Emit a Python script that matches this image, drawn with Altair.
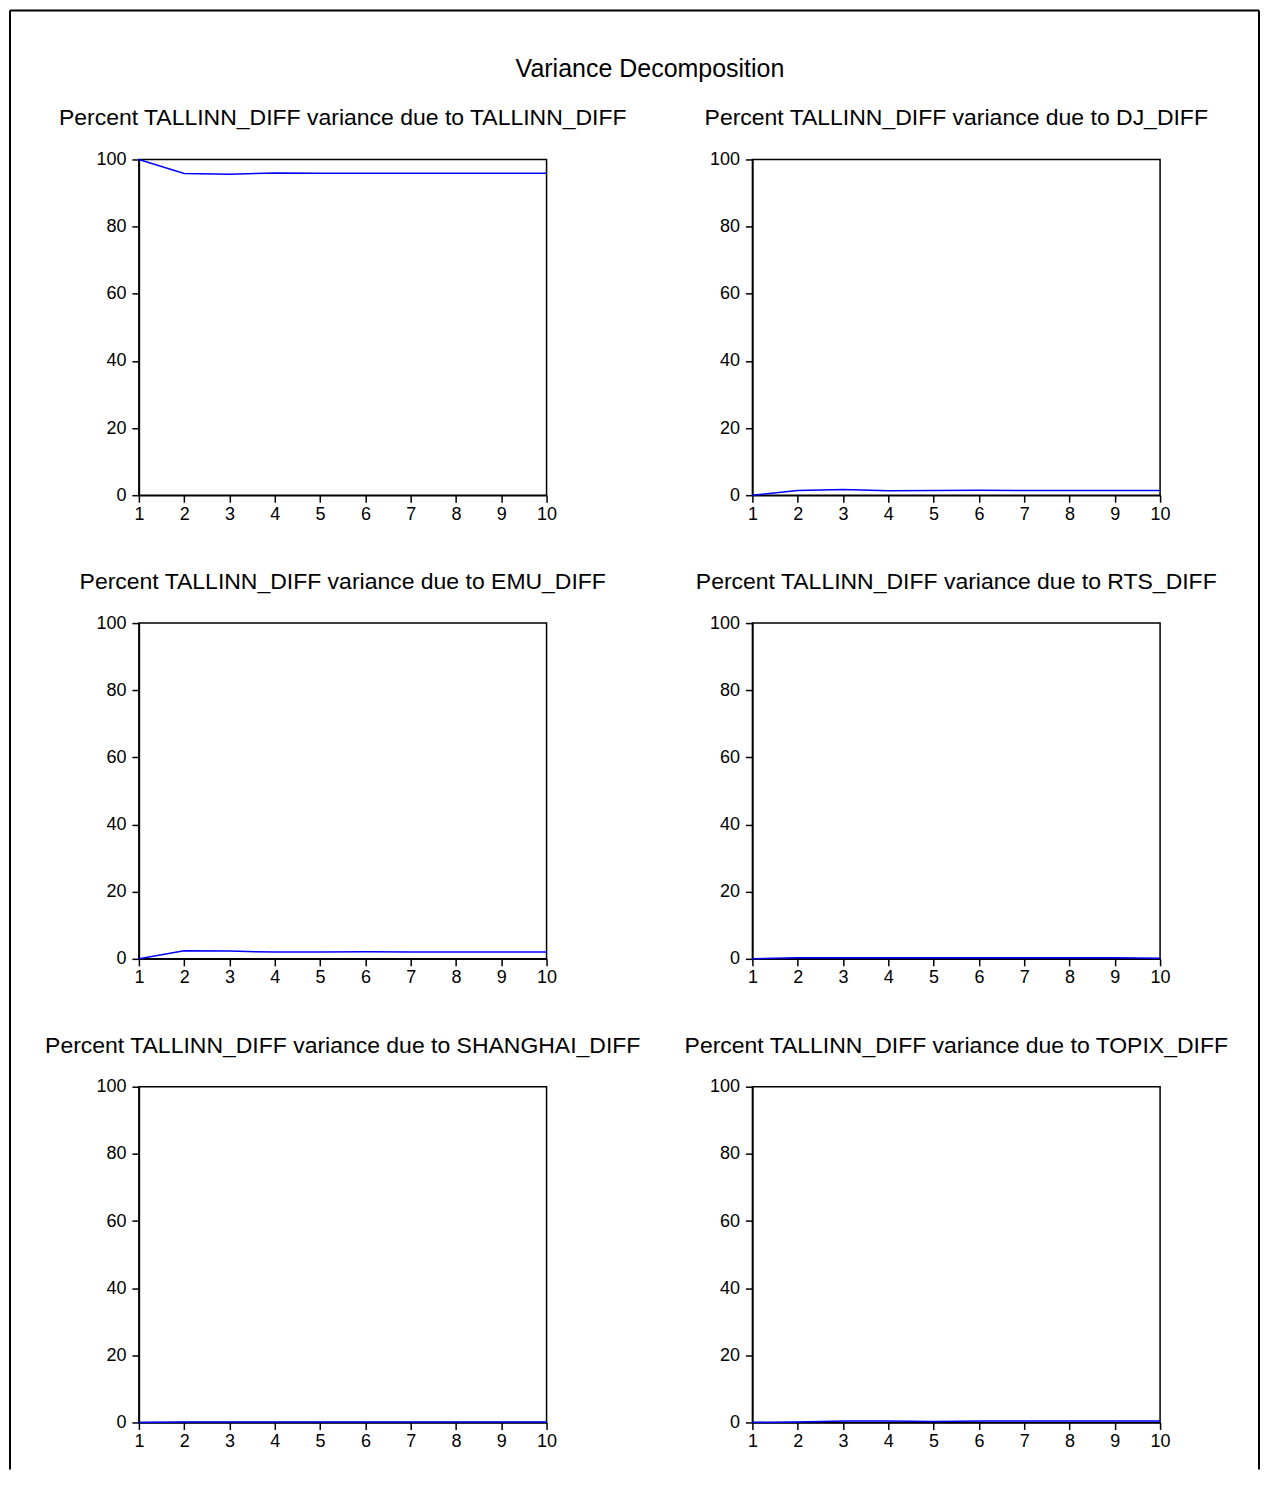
import altair as alt
import pandas as pd

periods = [1, 2, 3, 4, 5, 6, 7, 8, 9, 10]

tallinn = [100.0, 95.8, 95.6, 96.0, 95.9, 95.9, 95.9, 95.9, 95.9, 95.9]
dj = [0.0, 1.4, 1.7, 1.3, 1.4, 1.5, 1.4, 1.4, 1.4, 1.4]
emu = [0.0, 2.4, 2.3, 2.0, 2.0, 2.1, 2.0, 2.0, 2.0, 2.0]
rts = [0.0, 0.3, 0.3, 0.3, 0.3, 0.3, 0.3, 0.3, 0.3, 0.2]
shanghai = [0.0, 0.1, 0.1, 0.1, 0.1, 0.1, 0.1, 0.1, 0.1, 0.1]
topix = [0.0, 0.1, 0.4, 0.4, 0.3, 0.4, 0.4, 0.4, 0.4, 0.4]

series = [
    ("TALLINN_DIFF", tallinn),
    ("DJ_DIFF", dj),
    ("EMU_DIFF", emu),
    ("RTS_DIFF", rts),
    ("SHANGHAI_DIFF", shanghai),
    ("TOPIX_DIFF", topix),
]

y_ticks = [0, 20, 40, 60, 80, 100]
FONT = "Liberation Sans"
W, H = 408, 336


def panel(name, values, first=False):
    df = pd.DataFrame({"period": periods, "pct": values})
    line = alt.Chart(df).mark_line(color="#0000FF", strokeWidth=1.5).encode(
        x=alt.X("period:Q", scale=alt.Scale(domain=[1, 10], nice=False),
                axis=alt.Axis(values=periods, title=None, grid=False,
                              labelPadding=3, tickSize=7, format="d",
                              labelFlush=False)),
        y=alt.Y("pct:Q", scale=alt.Scale(domain=[0, 100], nice=False),
                axis=alt.Axis(values=y_ticks, title=None, grid=False,
                              labelPadding=6, tickSize=7)),
    )
    title = alt.TitleParams(
        f"Percent TALLINN_DIFF variance due to {name}",
        fontSize=23, font=FONT, fontWeight="normal", color="black",
        anchor="middle", frame="group", baseline="alphabetic",
        offset=(-139 if first else 2),
    )
    if first:
        one = pd.DataFrame({"k": [0]})
        left = alt.Chart(one).mark_rule(color="black", strokeWidth=2).encode(
            x=alt.value(-129), y=alt.value(-149), y2=alt.value(1311))
        top = alt.Chart(one).mark_rule(color="black", strokeWidth=2).encode(
            x=alt.value(-129), x2=alt.value(1121), y=alt.value(-149))
        right = alt.Chart(one).mark_rule(color="black", strokeWidth=2).encode(
            x=alt.value(1121), y=alt.value(-149), y2=alt.value(1311))
        return alt.layer(line, left, top, right).properties(
            width=W, height=H, title=title)
    return line.properties(width=W, height=H, title=title)


cells = [panel(n, v, first=(i == 0)) for i, (n, v) in enumerate(series)]

chart = alt.concat(
    *cells, columns=2, bounds="flush",
    spacing=alt.RowColnumber(row=128, column=206),
).properties(
    title=alt.TitleParams("Variance Decomposition", fontSize=25, font=FONT,
                          fontWeight="normal", color="black", anchor="middle",
                          frame="bounds", dx=15.5, baseline="alphabetic",
                          offset=-93),
    padding=0,
    background="white",
).configure_view(stroke="black", strokeWidth=1.5).configure_axis(
    labelFont=FONT, labelFontSize=18, labelColor="black",
    domainColor="black", domainWidth=1.5, tickColor="black", tickWidth=1.5,
)

chart.save("out.html", embed_options={"renderer": "svg", "actions": False})
